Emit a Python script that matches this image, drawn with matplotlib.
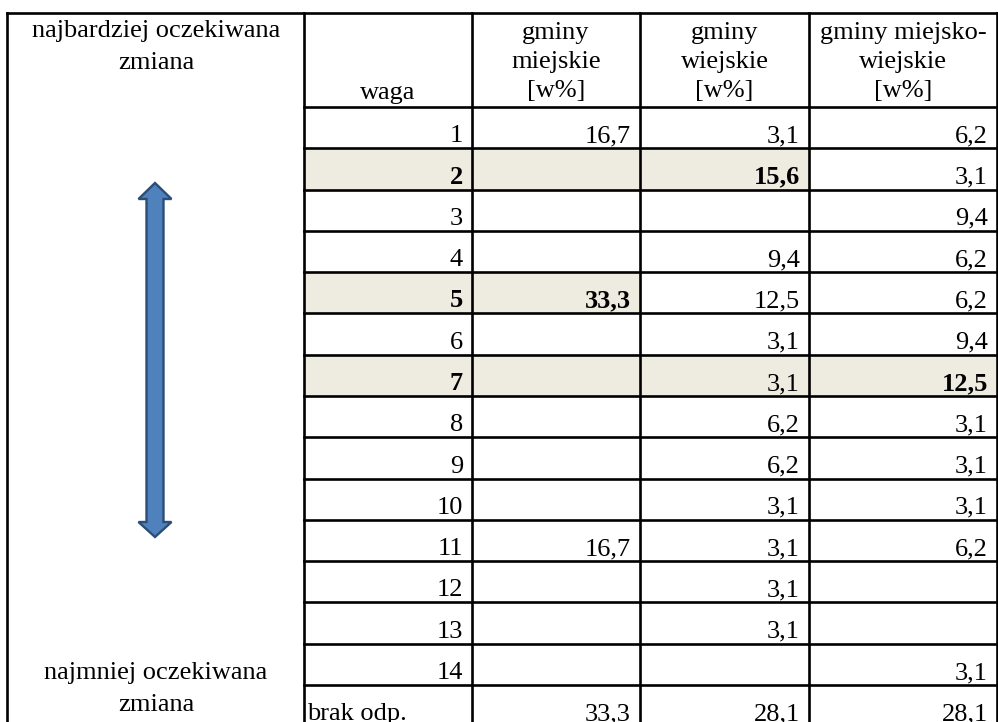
import matplotlib.pyplot as plt
from matplotlib.patches import Polygon, Rectangle

# table content
weights = [str(i) for i in range(1, 15)] + ["brak odp."]
miejskie = [16.7, None, None, None, 33.3, None, None, None, None, None, 16.7, None, None, None, 33.3]
wiejskie = [3.1, 15.6, None, 9.4, 12.5, 3.1, 3.1, 6.2, 6.2, 3.1, 3.1, 3.1, 3.1, None, 28.1]
miejsko_wiejskie = [6.2, 3.1, 9.4, 6.2, 6.2, 9.4, 12.5, 3.1, 3.1, 3.1, 6.2, None, None, 3.1, 28.1]
headers = ["waga", "gminy\nmiejskie\n[w%]", "gminy\nwiejskie\n[w%]", "gminy miejsko-\nwiejskie\n[w%]"]
# row index -> column holding the highlighted (bold) maximum
highlight = {1: 2, 4: 1, 6: 3}

top_label = "najbardziej oczekiwana\nzmiana"
bottom_label = "najmniej oczekiwana\nzmiana"

W, H = 998, 722
col_edges = [7, 304, 472, 640, 809, 997]
top = 13
head_bottom = 107
row_h = (685 - head_bottom) / 14
shade = "#EEECE1"
font = "Liberation Serif"
fs = 19

fig = plt.figure(figsize=(W / 100, H / 100), dpi=100)
ax = fig.add_axes([0, 0, 1, 1])
ax.set_xlim(0, W)
ax.set_ylim(H, 0)
ax.axis("off")


def lines(x, y_first, text, step):
    # one text per line so that baselines land where the reference has them
    for i, line in enumerate(text.split("\n")):
        ax.text(x, y_first + i * step, line, ha="center", va="baseline",
                fontsize=fs, family=font, color="black")


columns = [weights, miejskie, wiejskie, miejsko_wiejskie]
n_rows = len(weights)

for r in range(n_rows):
    y0 = head_bottom + r * row_h
    hl = highlight.get(r)
    if hl is not None:
        ax.add_patch(Rectangle((col_edges[1], y0), col_edges[hl + 2] - col_edges[1], row_h,
                               facecolor=shade, edgecolor="none", zorder=0))
    for c, col in enumerate(columns):
        v = col[r]
        if v is None:
            continue
        txt = v if isinstance(v, str) else f"{v:.1f}".replace(".", ",")
        bold = hl is not None and (c == 0 or c == hl)
        if txt == "brak odp.":
            x, ha = col_edges[1] + 3, "left"
        else:
            x, ha = col_edges[c + 2] - 9, "right"
        ax.text(x, y0 + row_h - 6, txt, ha=ha, va="baseline", fontsize=fs, family=font,
                fontweight="bold" if bold else "normal", color="black")

# grid lines
lw = 1.9
ax.plot([col_edges[0], col_edges[-1]], [top, top], color="black", lw=lw, solid_capstyle="projecting")
for x in col_edges:
    ax.plot([x, x], [top, H + 5], color="black", lw=lw)
for r in range(n_rows):
    y = head_bottom + r * row_h
    ax.plot([col_edges[1], col_edges[-1]], [y, y], color="black", lw=lw, solid_capstyle="projecting")

# header texts
for c, h in enumerate(headers):
    xc = (col_edges[c + 1] + col_edges[c + 2]) / 2
    if c == 0:
        lines(xc, 99, h, 0)
    else:
        lines(xc, 39, h, 29)

lines(156, 37, top_label, 32)
lines(156, 679, bottom_label, 32)

# double-headed arrow
cx, half_head, half_shaft = 155, 16.5, 8.5
y_tip1, y_head1, y_head2, y_tip2 = 183, 199, 522, 537
arrow = Polygon([
    (cx, y_tip1), (cx + half_head, y_head1), (cx + half_shaft, y_head1),
    (cx + half_shaft, y_head2), (cx + half_head, y_head2), (cx, y_tip2),
    (cx - half_head, y_head2), (cx - half_shaft, y_head2), (cx - half_shaft, y_head1),
    (cx - half_head, y_head1),
], closed=True, facecolor="#4F81BD", edgecolor="#2C4D75", lw=1.7, zorder=3)
ax.add_patch(arrow)

fig.savefig("out.png", dpi=100, facecolor="white")
plt.close(fig)
